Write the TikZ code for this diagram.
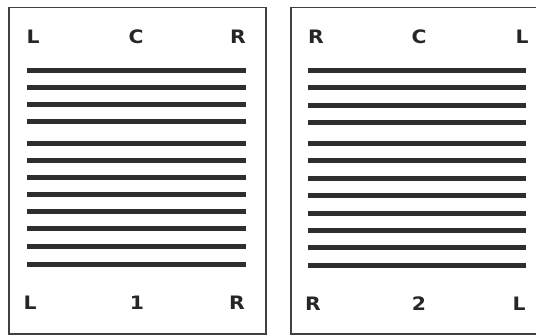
\documentclass[tikz,border=0pt]{standalone}
\usepackage{fontspec}
\newfontfamily\lblfont{DejaVu Sans}[FakeStretch=1.1]
\begin{document}
\begin{tikzpicture}[x=1pt,y=-1pt,
  panel/.style={draw=black!75,line width=1.5pt},
  bar/.style={draw=black!82,line width=5pt},
  lbl/.style={font=\lblfont\bfseries\fontsize{18.5}{18.5}\selectfont,text=black!85,inner sep=0pt}]
\useasboundingbox (0,0) rectangle (536,336);
\clip (0,0) rectangle (536,336);
% panels
\draw[panel] (9,7.5) rectangle (266,334);
\draw[panel] (291,7.5) rectangle (545,334);
% bars left
\foreach \y in {70.3,87.7,104.7,122,143.3,160.3,177.7,194.7,212,229,246.7,264.3}
  \draw[bar] (27,\y) -- (246,\y);
% bars right
\foreach \y in {71,88,105.3,122.7,143.7,161,178.7,196,213.3,230.3,248,265.3}
  \draw[bar] (307.5,\y) -- (526,\y);
% labels left
\node[lbl] (lTL) at (33,37) {L};
\node[lbl] (lTC) at (136,37) {C};
\node[lbl] (lTR) at (238,37) {R};
\node[lbl] (lBL) at (30,303) {L};
\node[lbl] (lBC) at (137,303) {1};
\node[lbl] (lBR) at (237,303) {R};
% labels right
\node[lbl] (rTR) at (316,37) {R};
\node[lbl] (rTC) at (419,37) {C};
\node[lbl] (rTL) at (522,37) {L};
\node[lbl] (rBR) at (313,304) {R};
\node[lbl] (rBC) at (419,304) {2};
\node[lbl] (rBL) at (519,304) {L};
\end{tikzpicture}
\end{document}
